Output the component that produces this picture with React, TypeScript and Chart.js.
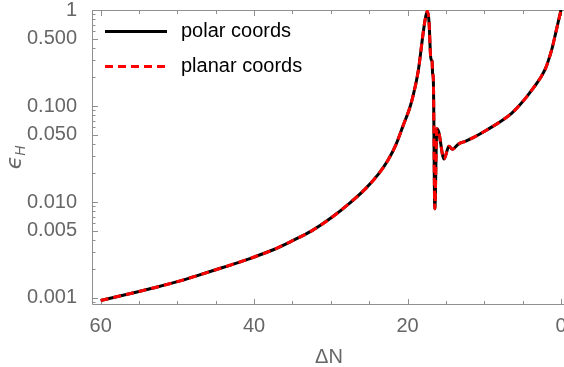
import React, { useEffect, useRef } from "react";
import { Chart, registerables } from "chart.js";

Chart.register(...registerables);

// ---- data ----
const deltaN = [
  60, 57.5, 55, 52.5, 50, 47.5, 45, 42.5, 40, 37.5, 35, 32.5, 30, 27.5, 25.5, 23.8,
  22.5, 21.5, 20.6, 19.7, 19.3, 18.6, 18.0, 17.7, 17.43, 17.2, 17.0, 16.88, 16.8,
  16.74, 16.64, 16.45, 16.18, 15.95, 15.25, 14.6, 14.15, 13.4, 12.5, 11.45, 10.0,
  8.84, 7.5, 6.44, 5.5, 4.48, 3.5, 2.74, 2.0, 1.66, 1.2, 0.78, 0.35, 0,
];
const epsPolar = [
  0.00094, 0.00105, 0.00117, 0.00131, 0.00148, 0.0017, 0.00197, 0.00228, 0.00267,
  0.00318, 0.00395, 0.005, 0.0068, 0.0098, 0.0137, 0.0195, 0.0277, 0.0398, 0.0617,
  0.0966, 0.126, 0.234, 0.55, 0.8, 0.97, 0.75, 0.33, 0.3, 0.29, 0.22, 0.19, 0.0085,
  0.058, 0.054, 0.028, 0.038, 0.0354, 0.04, 0.0429, 0.0468, 0.0543, 0.0617, 0.0724,
  0.084, 0.1, 0.1245, 0.158, 0.193, 0.248, 0.295, 0.389, 0.537, 0.759, 1.0,
];
const epsPlanar = [
  0.00094, 0.00105, 0.00117, 0.00131, 0.00148, 0.0017, 0.00197, 0.00228, 0.00267,
  0.00318, 0.00395, 0.005, 0.0068, 0.0098, 0.0137, 0.0195, 0.0277, 0.0398, 0.0617,
  0.0966, 0.126, 0.234, 0.55, 0.8, 0.97, 0.75, 0.33, 0.3, 0.29, 0.22, 0.19, 0.0085,
  0.058, 0.054, 0.028, 0.038, 0.0354, 0.04, 0.0429, 0.0468, 0.0543, 0.0617, 0.0724,
  0.084, 0.1, 0.1245, 0.158, 0.193, 0.248, 0.295, 0.389, 0.537, 0.759, 1.0,
];
const seriesLabels = ["polar coords", "planar coords"];
const xTickValues = [60, 40, 20, 0];
const xTickLabels = ["60", "40", "20", "0"];
const xMinorTickValues = [60, 55, 50, 45, 40, 35, 30, 25, 20, 15, 10, 5, 0];
const yTickValues = [0.001, 0.005, 0.01, 0.05, 0.1, 0.5, 1];
const yTickLabels = ["0.001", "0.005", "0.010", "0.050", "0.100", "0.500", "1"];
const yDecades = [0.0001, 0.001, 0.01, 0.1];
const xTitle = "ΔN";
const yTitleMain = "ϵ";
const yTitleSub = "H";

// ---- styles ----
const FONT = "'Liberation Sans', Arial, sans-serif";
const LABEL_COLOR = "#666666";
const FRAME_COLOR = "#8f8f8f";
const X_MIN = -0.39;
const X_MAX = 61.13;
const Y_MIN = 0.000845;
const Y_MAX = 1;

const framePlugin = {
  id: "mmaFrame",
  beforeDatasetsDraw(chart: any) {
    const { ctx, chartArea: a, scales } = chart;
    const x = scales.x;
    const y = scales.y;
    ctx.save();
    ctx.strokeStyle = FRAME_COLOR;
    ctx.lineWidth = 1;
    ctx.beginPath();
    ctx.moveTo(a.left + 0.5, a.top + 0.5);
    ctx.lineTo(a.left + 0.5, a.bottom - 0.5);
    ctx.lineTo(a.right, a.bottom - 0.5);
    ctx.moveTo(a.left + 0.5, a.top + 0.5);
    ctx.lineTo(a.right, a.top + 0.5);
    for (const v of xMinorTickValues) {
      const px = Math.round(x.getPixelForValue(v)) + 0.5;
      const len = xTickValues.includes(v) ? 6 : 4;
      ctx.moveTo(px, a.bottom);
      ctx.lineTo(px, a.bottom - len);
      ctx.moveTo(px, a.top);
      ctx.lineTo(px, a.top + len);
    }
    for (const d of yDecades) {
      for (let k = 1; k <= 9; k++) {
        const v = d * k;
        if (v < Y_MIN || v > Y_MAX) continue;
        const major = yTickValues.some((t) => Math.abs(t - v) / t < 1e-6);
        const py = Math.round(y.getPixelForValue(v)) + 0.5;
        const len = major ? 6 : 3.5;
        ctx.moveTo(a.left, py);
        ctx.lineTo(a.left + len, py);
      }
    }
    {
      const py = Math.round(y.getPixelForValue(1)) + 0.5;
      ctx.moveTo(a.left, py);
      ctx.lineTo(a.left + 6, py);
    }
    ctx.stroke();
    ctx.restore();
  },
  afterDraw(chart: any) {
    const { ctx, chartArea: a } = chart;
    ctx.save();
    ctx.fillStyle = LABEL_COLOR;
    ctx.font = `20px ${FONT}`;
    ctx.textAlign = "center";
    ctx.textBaseline = "middle";
    ctx.fillText(xTitle, 329, 357);
    ctx.save();
    ctx.translate(15, (a.top + a.bottom) / 2);
    ctx.rotate(-Math.PI / 2);
    ctx.font = `italic 22px 'DejaVu Sans', ${FONT}`;
    const w1 = ctx.measureText(yTitleMain).width;
    ctx.font = `italic 14px ${FONT}`;
    const w2 = ctx.measureText(yTitleSub).width;
    const start = -(w1 + w2) / 2;
    ctx.textAlign = "left";
    ctx.textBaseline = "alphabetic";
    ctx.font = `italic 22px 'DejaVu Sans', ${FONT}`;
    ctx.fillText(yTitleMain, start, 6);
    ctx.font = `italic 14px ${FONT}`;
    ctx.fillText(yTitleSub, start + w1, 10);
    ctx.restore();
    const ds = chart.data.datasets;
    const rows = [31.5, 66.5];
    ds.forEach((d: any, i: number) => {
      const yy = rows[i];
      ctx.save();
      ctx.strokeStyle = d.borderColor;
      ctx.lineWidth = d.borderWidth;
      ctx.setLineDash(d.borderDash || []);
      ctx.beginPath();
      ctx.moveTo(105, yy);
      ctx.lineTo(167, yy);
      ctx.stroke();
      ctx.restore();
      ctx.fillStyle = "#000000";
      ctx.font = `20px ${FONT}`;
      ctx.textAlign = "left";
      ctx.textBaseline = "middle";
      ctx.fillText(d.label, 181, yy);
    });
    ctx.restore();
  },
};

export default function App() {
  const canvasRef = useRef<HTMLCanvasElement | null>(null);

  useEffect(() => {
    if (!canvasRef.current) return;
    const chart = new Chart(canvasRef.current, {
      type: "line",
      data: {
        datasets: [
          {
            label: seriesLabels[0],
            data: deltaN.map((n, i) => ({ x: n, y: epsPolar[i] })),
            borderColor: "#000000",
            borderWidth: 3,
            pointRadius: 0,
            cubicInterpolationMode: "monotone",
            order: 1,
          },
          {
            label: seriesLabels[1],
            data: deltaN.map((n, i) => ({ x: n, y: epsPlanar[i] })),
            borderColor: "#ff0000",
            borderWidth: 3,
            borderDash: [8, 5],
            pointRadius: 0,
            cubicInterpolationMode: "monotone",
            order: 0,
          },
        ],
      },
      options: {
        animation: false,
        responsive: true,
        maintainAspectRatio: false,
        layout: { padding: { top: 10, right: 0, left: 0, bottom: 0 } },
        plugins: { legend: { display: false }, tooltip: { enabled: false } },
        events: [],
        scales: {
          x: {
            type: "linear",
            reverse: true,
            min: X_MIN,
            max: X_MAX,
            grid: { display: false },
            border: { display: false },
            afterBuildTicks: (s: any) => {
              s.ticks = xTickValues.map((v) => ({ value: v }));
            },
            afterFit: (s: any) => {
              s.height = 62;
              s.paddingLeft = 0;
              s.paddingRight = 0;
              s.paddingTop = 0;
              s.paddingBottom = 0;
            },
            ticks: {
              autoSkip: false,
              maxRotation: 0,
              padding: 1,
              color: LABEL_COLOR,
              font: { family: FONT, size: 20 },
              callback: (_v: any, i: number) => xTickLabels[i],
            },
          },
          y: {
            type: "logarithmic",
            min: Y_MIN,
            max: Y_MAX,
            grid: { display: false },
            border: { display: false },
            afterBuildTicks: (s: any) => {
              s.ticks = yTickValues.map((v) => ({ value: v }));
            },
            afterFit: (s: any) => {
              s.width = 92;
              s.paddingLeft = 0;
              s.paddingRight = 0;
              s.paddingTop = 0;
              s.paddingBottom = 0;
            },
            ticks: {
              autoSkip: false,
              padding: 7,
              color: LABEL_COLOR,
              font: { family: FONT, size: 20 },
              callback: (_v: any, i: number) => yTickLabels[i],
            },
          },
        },
      },
      plugins: [framePlugin],
    } as any);
    return () => chart.destroy();
  }, []);

  return (
    <div style={{ position: "absolute", left: 0, top: 0, width: 564, height: 367, background: "#fff" }}>
      <canvas ref={canvasRef} />
    </div>
  );
}
